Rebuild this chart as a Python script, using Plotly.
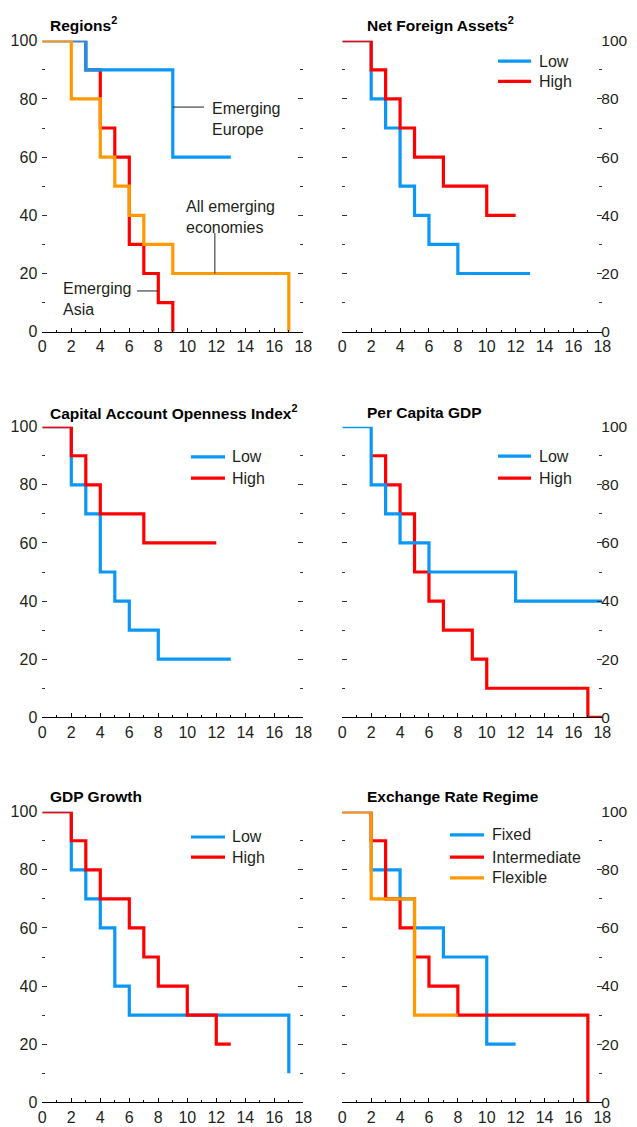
import plotly.graph_objects as go

# ---------------- data ----------------
# Regions
reg_europe_x = [0, 3, 9, 13]
reg_europe_y = [100, 90, 60, 60]
reg_asia_x = [0, 3, 4, 5, 6, 7, 8, 9]
reg_asia_y = [100, 90, 70, 60, 30, 20, 10, 0]
reg_all_x = [0, 2, 4, 5, 6, 7, 9, 17]
reg_all_y = [100, 80, 60, 50, 40, 30, 20, 0]

# Net Foreign Assets
nfa_low_x = [0, 2, 3, 4, 5, 6, 8, 13]
nfa_low_y = [100, 80, 70, 50, 40, 30, 20, 20]
nfa_high_x = [0, 2, 3, 4, 5, 7, 10, 12]
nfa_high_y = [100, 90, 80, 70, 60, 50, 40, 40]

# Capital Account Openness Index
cao_low_x = [0, 2, 3, 4, 5, 6, 8, 13]
cao_low_y = [100, 80, 70, 50, 40, 30, 20, 20]
cao_high_x = [0, 2, 3, 4, 7, 12]
cao_high_y = [100, 90, 80, 70, 60, 60]

# Per Capita GDP
pcg_low_x = [0, 2, 3, 4, 6, 12, 18]
pcg_low_y = [100, 80, 70, 60, 50, 40, 40]
pcg_high_x = [2, 3, 4, 5, 6, 7, 9, 10, 17, 18]
pcg_high_y = [90, 80, 70, 50, 40, 30, 20, 10, 0, 0]

# GDP Growth
gg_low_x = [0, 2, 3, 4, 5, 6, 17]
gg_low_y = [100, 80, 70, 60, 40, 30, 10]
gg_high_x = [0, 2, 3, 4, 6, 7, 8, 10, 12, 13]
gg_high_y = [100, 90, 80, 70, 60, 50, 40, 30, 20, 20]

# Exchange Rate Regime
er_fixed_x = [0, 2, 4, 5, 7, 10, 12]
er_fixed_y = [100, 80, 70, 60, 50, 20, 20]
er_inter_x = [0, 2, 3, 4, 5, 6, 8, 17]
er_inter_y = [100, 90, 70, 60, 50, 40, 30, 0]
er_flex_x = [0, 2, 5, 8]
er_flex_y = [100, 70, 30, 30]

titles = ["Regions<sup>2</sup>", "Net Foreign Assets<sup>2</sup>",
          "Capital Account Openness Index<sup>2</sup>", "Per Capita GDP",
          "GDP Growth", "Exchange Rate Regime"]
x_ticks = [0, 2, 4, 6, 8, 10, 12, 14, 16, 18]
y_ticks = [0, 20, 40, 60, 80, 100]

# ---------------- style ----------------
BLUE = "#0a97f5"
RED = "#ff0000"
ORANGE = "#ff9900"
TXT = "#231f20"
FONT = "Liberation Sans, Arial, sans-serif"
LW = 3.2

# the page body has an 8px margin: work in page pixels and shift by OFF
OFF = 8
W, H = 637 - OFF, 1127 - OFF

def px_x(p):
    return (p - OFF) / W

def px_y(p):
    return 1 - (p - OFF) / H

xdom_left = [px_x(42.3), px_x(303.3)]
xdom_right = [px_x(342.3), px_x(602.3)]
rows = [(40.7, 331.7), (426.7, 717.3), (811.7, 1102.3)]
ydoms = [[px_y(b), px_y(t)] for (t, b) in rows]

fig = go.Figure()

def add(x, y, color, idx):
    suffix = "" if idx == 1 else str(idx)
    fig.add_trace(go.Scatter(x=x, y=y, mode="lines", line=dict(color=color, width=LW, shape="hv"),
                             xaxis="x" + suffix, yaxis="y" + suffix, showlegend=False,
                             hoverinfo="skip"))

# panel 1
add(reg_asia_x, reg_asia_y, RED, 1)
add(reg_europe_x, reg_europe_y, BLUE, 1)
add(reg_all_x, reg_all_y, ORANGE, 1)
# panel 2
add(nfa_low_x, nfa_low_y, BLUE, 2)
add(nfa_high_x, nfa_high_y, RED, 2)
# panel 3
add(cao_low_x, cao_low_y, BLUE, 3)
add(cao_high_x, cao_high_y, RED, 3)
# panel 4
add(pcg_high_x, pcg_high_y, RED, 4)
add(pcg_low_x, pcg_low_y, BLUE, 4)
# panel 5
add(gg_low_x, gg_low_y, BLUE, 5)
add(gg_high_x, gg_high_y, RED, 5)
# panel 6
add(er_fixed_x, er_fixed_y, BLUE, 6)
add(er_inter_x, er_inter_y, RED, 6)
add(er_flex_x, er_flex_y, ORANGE, 6)

layout = dict(
    template="none",
    width=W, height=H, margin=dict(l=0, r=0, t=0, b=0, autoexpand=False),
    paper_bgcolor="white", plot_bgcolor="white",
    font=dict(family=FONT, color=TXT, size=16),
    showlegend=False,
)

for i in range(6):
    idx = i + 1
    suffix = "" if idx == 1 else str(idx)
    left = (i % 2 == 0)
    row = i // 2
    layout["xaxis" + suffix] = dict(
        domain=xdom_left if left else xdom_right, range=[0, 18], anchor="y" + suffix,
        tickvals=x_ticks, ticks="inside", ticklen=4, tickcolor="black", tickwidth=1,
        minor=dict(dtick=1, tick0=0, ticks="inside", ticklen=2, tickcolor="black", tickwidth=1),
        showline=True, linecolor="black", linewidth=1, showgrid=False, zeroline=False,
        tickfont=dict(size=16, color=TXT, family=FONT), fixedrange=True, automargin=False,
    )
    layout["yaxis" + suffix] = dict(
        domain=ydoms[row], range=[0, 100], anchor="x" + suffix,
        side="left" if left else "right",
        tickvals=y_ticks, ticks="inside", ticklen=5, tickcolor="#333", tickwidth=1,
        minor=dict(dtick=10, tick0=0, ticks="inside", ticklen=3, tickcolor="#333", tickwidth=1),
        mirror="ticks", showline=False, showgrid=False, zeroline=False,
        ticklabelstandoff=4 if left else -2,
        tickfont=dict(size=16 if left else 15.5, color=TXT, family=FONT),
        fixedrange=True, automargin=False,
    )
fig.update_layout(**layout)

# panel titles
title_pos = [(48, 24), (365, 24), (48, 412), (365, 412), (48, 796), (365, 796)]
for t, (px, py) in zip(titles, title_pos):
    fig.add_annotation(text="<b>" + t + "</b>", x=px_x(px), y=px_y(py), xref="paper", yref="paper",
                       xanchor="left", yanchor="middle", showarrow=False,
                       font=dict(size=15.5, color="black", family=FONT))

# Regions annotations
def note(text, x, y, ref):
    fig.add_annotation(text=text, x=x, y=y, xref="x" + ref, yref="y" + ref, xanchor="left",
                       yanchor="middle", showarrow=False, align="left",
                       font=dict(size=16, color=TXT, family=FONT))

def seg(x0, y0, x1, y1, ref, color="#231f20", width=1):
    fig.add_shape(type="line", x0=x0, y0=y0, x1=x1, y1=y1, xref="x" + ref, yref="y" + ref,
                  line=dict(color=color, width=width))

note("Emerging<br>Europe", 11.55, 73, "")
note("All emerging<br>economies", 9.8, 39.4, "")
note("Emerging<br>Asia", 1.3, 11.2, "")
seg(9.0, 77.2, 11.15, 77.2, "")
seg(11.9, 33.9, 11.9, 20, "")
seg(6.53, 14, 7.98, 14, "")

# legends
def legend(ref, x0, x1, xt, entries):
    for label, color, y in entries:
        seg(x0, y, x1, y, ref, color=color, width=LW)
        fig.add_annotation(text=label, x=xt, y=y, xref="x" + ref, yref="y" + ref, xanchor="left",
                           yanchor="middle", showarrow=False,
                           font=dict(size=16, color=TXT, family=FONT))

legend("2", 10.78, 13.07, 13.5, [("Low", BLUE, 93.0), ("High", RED, 86.0)])
legend("3", 10.25, 12.6, 12.95, [("Low", BLUE, 89.6), ("High", RED, 82.3)])
legend("4", 10.78, 13.07, 13.5, [("Low", BLUE, 89.9), ("High", RED, 82.3)])
legend("5", 10.25, 12.6, 12.95, [("Low", BLUE, 91.3), ("High", RED, 84.4)])
legend("6", 7.45, 9.81, 10.2, [("Fixed", BLUE, 92.0), ("Intermediate", RED, 84.4),
                                 ("Flexible", ORANGE, 77.2)])

fig.write_html("out.html")
